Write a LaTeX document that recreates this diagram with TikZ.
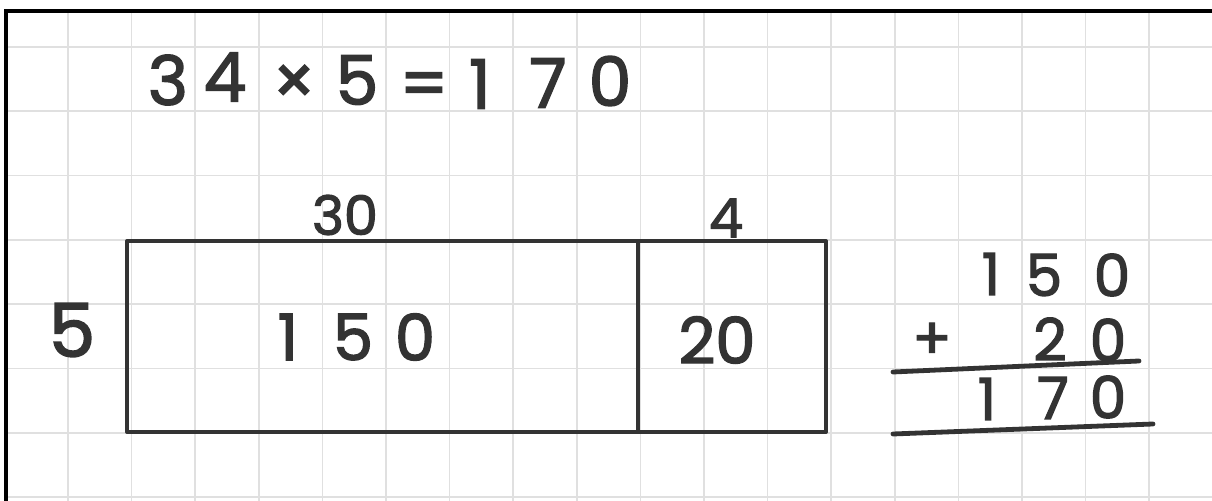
\documentclass[tikz,border=0pt]{standalone}
\usepackage{fontspec}
\setmainfont{Poppins}
\newfontfamily\hand{Poppins}[FakeBold=2.2]
\usepackage{tikz}
\definecolor{ink}{HTML}{333333}
\definecolor{gridgray}{HTML}{E0E0E0}

\begin{document}
\begin{tikzpicture}[
    x=0.5pt,y=-0.5pt,
    grille/.style  = {gridgray, line width=0.8pt},
    cadre/.style   = {black, line width=2pt},
    trait/.style   = {ink, line width=2pt, line join=round},
    somme/.style   = {ink, line width=2.4pt, line cap=round},
    chiffre/.style = {text=ink, inner sep=0pt, font=\hand\fontsize{32}{36}\selectfont},
    enonce/.style  = {chiffre, font=\hand\fontsize{34}{38}\selectfont},
    petit/.style   = {chiffre, font=\hand\fontsize{27}{30}\selectfont},
    grand/.style   = {chiffre, font=\hand\fontsize{37}{40}\selectfont},
    posee/.style   = {chiffre, font=\hand\fontsize{29}{32}\selectfont},
  ]

  \useasboundingbox (0,0) rectangle (1212,501);

  % ── Papier quadrillé ────────────────────────────────────────────────────
  \begin{scope}
    \clip (6,11.5) rectangle (1212,501);
    \foreach \k in {0,...,19}
      \draw[grille] ({4.4+63.6*\k},0) -- ({4.4+63.6*\k},501);
    \foreach \k in {0,...,8}
      \draw[grille] (0,{-17.3+64.3*\k}) -- (1212,{-17.3+64.3*\k});
  \end{scope}
  \draw[cadre] (6,501) -- (6,11.5) -- (1212,11.5);

  % ── Énoncé ──────────────────────────────────────────────────────────────
  \foreach \c/\x/\y [count=\i] in {3/168/80, 4/225/77, ×/294/85, 5/357/80,
                                   =/424/90, 1/480/84, 7/548/83, 0/610/81}
    \node[enonce] (enonce\i) at (\x,\y) {\c};

  % ── Grille de multiplication ────────────────────────────────────────────
  \draw[trait] (127,241) rectangle (826,432);
  \draw[trait] (638,241) -- (638,432);

  \node[petit] (dizaines) at (345,215) {30};
  \node[petit] (unites)   at (726,218) {4};
  \node[grand] (facteur)  at (72,330)  {5};

  \foreach \c/\x [count=\i] in {1/288, 5/353, 0/415}
    \node[chiffre] (gauche\i) at (\x,337) {\c};
  \node[chiffre] (droite) at (717,340) {20};

  % ── Addition posée ──────────────────────────────────────────────────────
  \foreach \c/\x/\y [count=\i] in {1/991/274, 5/1044/275, 0/1112/275}
    \node[posee] (haut\i) at (\x,\y) {\c};
  \node[posee] (plus) at (932,341) {+};
  \foreach \c/\x/\y [count=\i] in {2/1050/339, 0/1108/340}
    \node[posee] (milieu\i) at (\x,\y) {\c};
  \foreach \c/\x/\y [count=\i] in {1/987/399, 7/1053/398, 0/1108/397}
    \node[posee] (total\i) at (\x,\y) {\c};

  \draw[somme] (893,372) -- (1139,361);
  \draw[somme] (893,434) -- (1153,424);

\end{tikzpicture}
\end{document}
